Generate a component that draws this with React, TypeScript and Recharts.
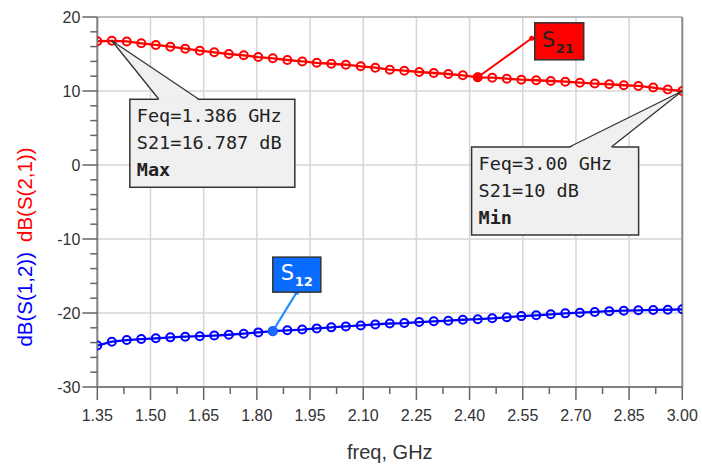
import React from 'react';
import { LineChart, Line, XAxis, YAxis, ReferenceLine, ReferenceDot, Label } from 'recharts';

const freqs = [
  1.35, 1.391, 1.433, 1.474, 1.515, 1.556, 1.598, 1.639, 1.68, 1.721, 1.763, 1.804, 1.845, 1.886,
  1.928, 1.969, 2.01, 2.051, 2.093, 2.134, 2.175, 2.216, 2.258, 2.299, 2.34, 2.381, 2.423, 2.464,
  2.505, 2.546, 2.588, 2.629, 2.67, 2.711, 2.753, 2.794, 2.835, 2.876, 2.918, 2.959, 3.0,
];

const s21 = [
  16.72, 16.787, 16.7, 16.45, 16.22, 15.99, 15.72, 15.45, 15.23, 15.0, 14.82, 14.59, 14.42, 14.19,
  13.99, 13.81, 13.68, 13.55, 13.34, 13.15, 12.88, 12.74, 12.57, 12.43, 12.3, 12.12, 11.85, 11.8,
  11.66, 11.53, 11.45, 11.35, 11.26, 11.12, 11.01, 10.91, 10.78, 10.68, 10.47, 10.2, 10.0,
];

const s12 = [
  -24.4, -23.88, -23.66, -23.52, -23.42, -23.29, -23.2, -23.13, -23.05, -22.94, -22.8, -22.62,
  -22.45, -22.34, -22.24, -22.08, -21.94, -21.81, -21.68, -21.55, -21.42, -21.36, -21.22, -21.12,
  -21.04, -20.91, -20.84, -20.72, -20.58, -20.42, -20.31, -20.18, -20.05, -19.96, -19.86, -19.75,
  -19.69, -19.64, -19.59, -19.56, -19.5,
];

const xMajorTicks = [1.35, 1.5, 1.65, 1.8, 1.95, 2.1, 2.25, 2.4, 2.55, 2.7, 2.85, 3.0];
const xTickLabels = ['1.35', '1.50', '1.65', '1.80', '1.95', '2.10', '2.25', '2.40', '2.55', '2.70', '2.85', '3.00'];
const xMinorTicks = [1.425, 1.575, 1.725, 1.875, 2.025, 2.175, 2.325, 2.475, 2.625, 2.775, 2.925];
const yMajorTicks = [-30, -20, -10, 0, 10, 20];
const yTickLabels = ['-30', '-20', '-10', '0', '10', '20'];
const yMinorTicks = [-28, -26, -24, -22, -18, -16, -14, -12, -8, -6, -4, -2, 2, 4, 6, 8, 12, 14, 16, 18];

const maxIdx = 1;
const minIdx = 40;
const s21MarkerIdx = 26;
const s12MarkerIdx = 12;

const maxLines = ['Feq=1.386 GHz', 'S21=16.787 dB', 'Max'];
const minLines = ['Feq=3.00 GHz', 'S21=10 dB', 'Min'];

const data = freqs.map((f, i) => ({ freq: f, s21: s21[i], s12: s12[i] }));
const xAllTicks = [...xMajorTicks, ...xMinorTicks].sort((a, b) => a - b);
const yAllTicks = [...yMajorTicks, ...yMinorTicks].sort((a, b) => a - b);

const SANS = '"Liberation Sans", Arial, sans-serif';
const MONO = '"DejaVu Sans Mono", monospace';
const RED = '#ff0000';
const BLUE = '#0000ff';
const GRID = '#d6d6d6';

const near = (a: number, b: number) => Math.abs(a - b) < 1e-6;

const XTick = (props: any) => {
  const { x, y, payload } = props;
  const idx = xMajorTicks.findIndex((t) => near(t, payload.value));
  const major = idx >= 0;
  return (
    <g>
      <line x1={x} x2={x} y1={y} y2={y + (major ? 13 : 7)} stroke="#666" strokeWidth={1.5} />
      {major && (
        <text x={x} y={y + 34} textAnchor="middle" fontSize={16} fill="#333" fontFamily={SANS}>
          {xTickLabels[idx]}
        </text>
      )}
    </g>
  );
};

const YTick = (props: any) => {
  const { x, y, payload } = props;
  const idx = yMajorTicks.findIndex((t) => near(t, payload.value));
  const major = idx >= 0;
  return (
    <g>
      <line x1={x - (major ? 15 : 7)} x2={x} y1={y} y2={y} stroke="#666" strokeWidth={1.5} />
      {major && (
        <text x={x - 17} y={y} dy="0.36em" textAnchor="end" fontSize={16} fill="#333" fontFamily={SANS}>
          {yTickLabels[idx]}
        </text>
      )}
    </g>
  );
};

const Callout = ({ cx, cy, left, top, w, h, b1, b2, lines }: any) => {
  const L = cx + left;
  const T = cy + top;
  return (
    <g>
      <rect x={L} y={T} width={w} height={h} fill="#f0f0f0" stroke="#333" strokeWidth={1.5} />
      <polygon points={`${cx},${cy} ${cx + b1},${T + 1} ${cx + b2},${T + 1}`} fill="#f0f0f0" stroke="none" />
      <line x1={cx} y1={cy} x2={cx + b1} y2={T} stroke="#333" strokeWidth={1.3} />
      <line x1={cx} y1={cy} x2={cx + b2} y2={T} stroke="#333" strokeWidth={1.3} />
      {lines.map((t: string, i: number) => (
        <text
          key={i}
          x={L + 7}
          y={T + 23 + i * 27}
          fontSize={18.5}
          fontFamily={MONO}
          fontWeight={i === 2 ? 'bold' : 'normal'}
          fill="#222"
        >
          {t}
        </text>
      ))}
    </g>
  );
};

const S21Tag = ({ cx, cy }: any) => (
  <g>
    <line x1={cx} y1={cy} x2={cx + 54} y2={cy - 39} stroke={RED} strokeWidth={2} />
    <circle cx={cx + 54} cy={cy - 39} r={2.5} fill={RED} />
    <circle cx={cx} cy={cy} r={4.8} fill={RED} />
    <rect x={cx + 57} y={cy - 54.5} width={49} height={37} fill={RED} stroke="#333" strokeWidth={1.5} />
    <text x={cx + 64} y={cy - 30} fontSize={21} fontFamily={'"DejaVu Sans", sans-serif'} fill="#222">
      S
    </text>
    <text x={cx + 78} y={cy - 24.5} fontSize={13} fontWeight="bold" fontFamily={'"DejaVu Sans", sans-serif'} fill="#222">
      21
    </text>
  </g>
);

const S12Tag = ({ cx, cy }: any) => (
  <g>
    <line x1={cx} y1={cy} x2={cx + 24} y2={cy - 39} stroke="#1a8cff" strokeWidth={2} />
    <circle cx={cx + 24} cy={cy - 39} r={2.5} fill="#1a8cff" />
    <circle cx={cx} cy={cy} r={4.8} fill="#1a6cff" />
    <rect x={cx} y={cy - 74} width={48} height={35} fill="#0a6cff" stroke="#333" strokeWidth={1.5} />
    <text x={cx + 8} y={cy - 51} fontSize={21} fontFamily={'"DejaVu Sans", sans-serif'} fill="#fff">
      S
    </text>
    <text x={cx + 22} y={cy - 45.5} fontSize={13} fontWeight="bold" fontFamily={'"DejaVu Sans", sans-serif'} fill="#fff">
      12
    </text>
  </g>
);

export default function App() {
  return (
    <div style={{ position: 'absolute', left: 0, top: 0, width: 702, height: 467, background: '#fff' }}>
      <LineChart width={702} height={467} data={data} margin={{ top: 17, right: 19.7, left: 0.3, bottom: 0 }}>
        <XAxis
          dataKey="freq"
          type="number"
          domain={[1.35, 3.0]}
          ticks={xAllTicks}
          interval={0}
          tickSize={0}
          tickMargin={0}
          tick={<XTick />}
          axisLine={{ stroke: '#808080', strokeWidth: 2 }}
          height={80}
          allowDataOverflow
        >
          <Label
            content={(p: any) => {
              const vb = p.viewBox || { x: 97, y: 387, width: 585 };
              return (
                <text x={vb.x + vb.width / 2} y={vb.y + 72} textAnchor="middle" fontSize={20} fill="#333" fontFamily={SANS}>
                  freq, GHz
                </text>
              );
            }}
          />
        </XAxis>
        <YAxis
          type="number"
          domain={[-30, 20]}
          ticks={yAllTicks}
          interval={0}
          tickSize={0}
          tickMargin={0}
          tick={<YTick />}
          axisLine={{ stroke: '#808080', strokeWidth: 2 }}
          width={97}
          allowDataOverflow
        >
          <Label
            content={() => (
              <text
                x={24}
                y={247}
                transform="rotate(-90, 24, 247)"
                textAnchor="middle"
                dominantBaseline="central"
                fontSize={20.5}
                fontFamily={SANS}
              >
                <tspan fill={BLUE}>dB(S(1,2))</tspan>
                <tspan fill={RED} dx={10}>dB(S(2,1))</tspan>
              </text>
            )}
          />
        </YAxis>
        {xMajorTicks.slice(1, -1).map((t) => (
          <ReferenceLine key={'vx' + t} x={t} stroke={GRID} strokeWidth={1.5} />
        ))}
        {yMajorTicks.slice(1, -1).map((t) => (
          <ReferenceLine key={'hy' + t} y={t} stroke={GRID} strokeWidth={1.5} />
        ))}
        <ReferenceLine y={20} stroke="#a8a8a8" strokeWidth={1.5} />
        <ReferenceLine x={3.0} stroke="#8a8a8a" strokeWidth={2} />
        <Line
          dataKey="s12"
          stroke={BLUE}
          strokeWidth={2.3}
          type="linear"
          isAnimationActive={false}
          dot={{ r: 4, stroke: BLUE, strokeWidth: 2, fill: 'none' }}
        />
        <Line
          dataKey="s21"
          stroke={RED}
          strokeWidth={2.3}
          type="linear"
          isAnimationActive={false}
          dot={{ r: 4, stroke: RED, strokeWidth: 2, fill: 'none' }}
        />
        <ReferenceDot
          x={freqs[s21MarkerIdx]}
          y={s21[s21MarkerIdx]}
          r={0}
          ifOverflow="visible"
          shape={(p: any) => <S21Tag cx={p.cx} cy={p.cy} />}
        />
        <ReferenceDot
          x={freqs[s12MarkerIdx]}
          y={s12[s12MarkerIdx]}
          r={0}
          ifOverflow="visible"
          shape={(p: any) => <S12Tag cx={p.cx} cy={p.cy} />}
        />
        <ReferenceDot
          x={freqs[maxIdx]}
          y={s21[maxIdx]}
          r={0}
          ifOverflow="visible"
          shape={(p: any) => (
            <Callout cx={p.cx} cy={p.cy} left={18} top={58.5} w={165} h={88} b1={47} b2={87} lines={maxLines} />
          )}
        />
        <ReferenceDot
          x={freqs[minIdx]}
          y={s21[minIdx]}
          r={0}
          ifOverflow="visible"
          shape={(p: any) => (
            <Callout cx={p.cx} cy={p.cy} left={-210.7} top={56} w={167} h={88} b1={-113} b2={-71} lines={minLines} />
          )}
        />
      </LineChart>
    </div>
  );
}
